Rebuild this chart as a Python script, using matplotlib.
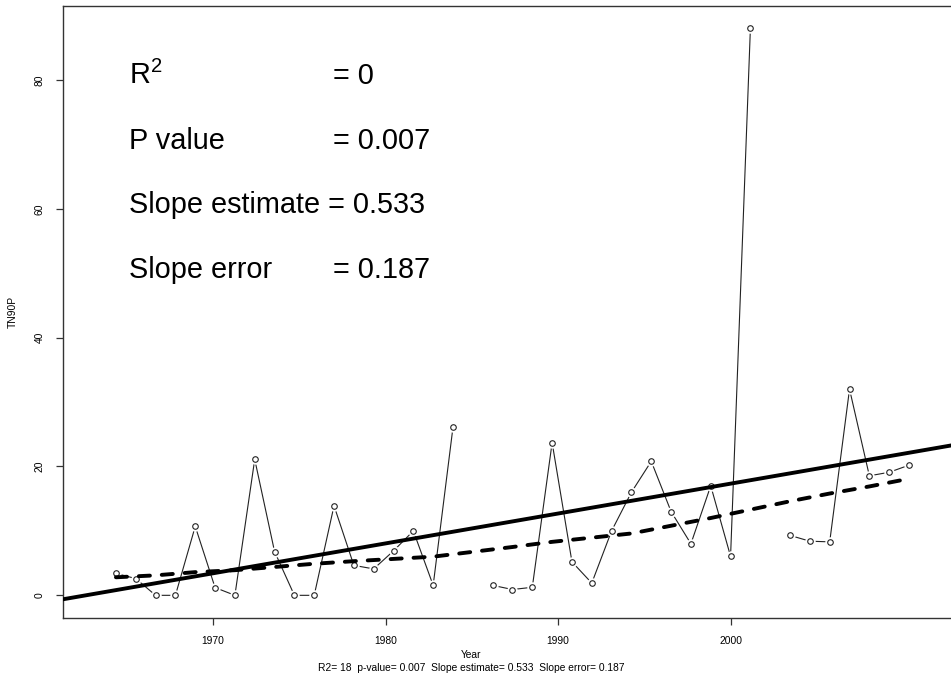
import numpy as np
import matplotlib.pyplot as plt

plt.rcParams['font.family'] = ['Liberation Sans', 'DejaVu Sans']
plt.rcParams['mathtext.fontset'] = 'custom'
plt.rcParams['mathtext.rm'] = 'Liberation Sans'
plt.rcParams['mathtext.it'] = 'Liberation Sans:italic'

# yearly TN90P values (nan = missing year)
years = np.arange(1965, 2006)
tn90p = [3.4, 2.6, 0.0, 0.0, 10.7, 1.2, 0.0, 21.1, 6.8, 0.0,
         0.0, 13.9, 4.65, 4.1, 6.9, 10.0, 1.55, 26.1, np.nan, 1.55,
         0.9, 1.25, 23.7, 5.2, 1.9, 10.0, 16.0, 20.8, 13.0, 8.0,
         17.0, 6.05, 88.0, np.nan, 9.3, 8.4, 8.3, 32.0, 18.55, 19.1,
         20.2]

# smoothed curve (dashed)
smooth_years = [1965, 1967, 1969, 1971, 1973, 1975, 1977, 1979, 1981, 1983, 1985,
                1987, 1989, 1991, 1993, 1995, 1997, 1999, 2001, 2003, 2005]
smooth_vals = [2.8, 3.1, 3.6, 3.9, 4.4, 4.9, 5.3, 5.65, 6.0, 6.75, 7.5,
               8.3, 8.95, 9.6, 10.8, 12.0, 13.3, 14.6, 15.8, 16.9, 18.1]

# linear trend
trend_slope = 0.533
trend_at_1965 = 0.81

# x axis ticks (as drawn on the original plot)
tick_pos = [1969.9, 1978.6, 1987.3, 1996.0]
tick_labels = ['1970', '1980', '1990', '2000']

stat_names = [r'R$^{2}$', 'P value', 'Slope estimate', 'Slope error']
stat_vals = ['= 0', '= 0.007', '= 0.533', '= 0.187']
footer = 'R2= 18  p-value= 0.007  Slope estimate= 0.533  Slope error= 0.187'

fig = plt.figure(figsize=(9.51, 6.92), dpi=100)
ax = fig.add_axes([63 / 951, 74 / 692, 893 / 951, 612.3 / 692])

y = np.array(tn90p)
ax.plot(years, y, color='#222222', lw=0.8, zorder=1)
# R type="b": gap around points
ax.plot(years, y, ls='none', marker='o', ms=6.5, mfc='white', mec='white', zorder=2)
ax.plot(years, y, ls='none', marker='o', ms=4, mfc='white', mec='#222222', mew=0.8, zorder=3)

ax.axline((1965, trend_at_1965), slope=trend_slope, color='black', lw=2.8, zorder=4)
ax.plot(smooth_years, smooth_vals, color='black', lw=2.8, dashes=(2.85, 3.05),
        dash_capstyle='round', zorder=4)

ax.set_xlim(1962.33, 2007.37)
ax.set_ylim(-3.52, 91.52)
ax.set_xticks(tick_pos)
ax.set_xticklabels(tick_labels)
ax.set_yticks([0, 20, 40, 60, 80])
ax.tick_params(length=5, width=0.9, color='#333333', labelsize=7.4)
ax.tick_params(axis='x', pad=8)
ax.tick_params(axis='y', pad=8)
plt.setp(ax.get_yticklabels(), rotation=90, va='center')
for s in ax.spines.values():
    s.set_color('#333333')
    s.set_linewidth(1.0)

ax.set_ylabel('TN90P', fontsize=7.4, labelpad=12)

for i in range(4):
    yy = 79.3 - 10 * i
    if i == 2:
        ax.text(1965.66, yy, stat_names[i] + ' ' + stat_vals[i], fontsize=20.8, va='baseline')
    else:
        ax.text(1965.66, yy, stat_names[i], fontsize=20.8, va='baseline')
        ax.text(1975.95, yy, stat_vals[i], fontsize=20.8, va='baseline')

fig.text(471 / 951, 1 - 655 / 692, 'Year', fontsize=7.4, ha='center', va='center')
fig.text(471 / 951, 1 - 668 / 692, footer, fontsize=7.4, ha='center', va='center')

fig.savefig('out.png', dpi=100)
